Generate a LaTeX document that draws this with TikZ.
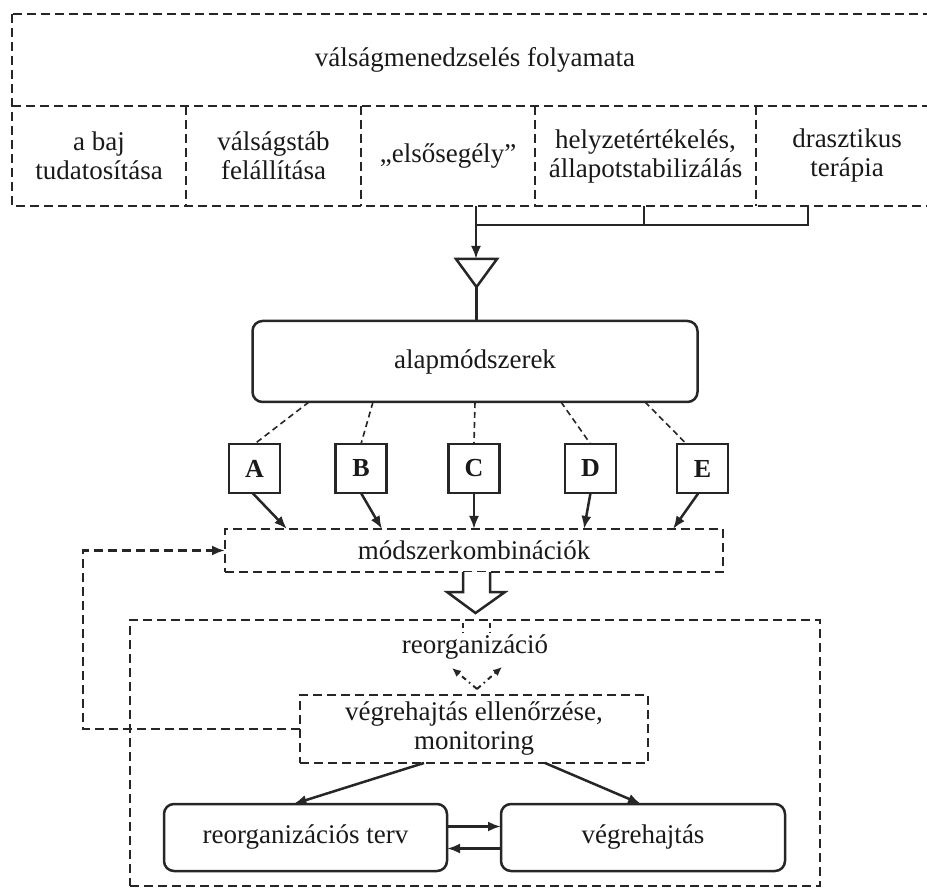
\documentclass[tikz,border=0pt]{standalone}
\usepackage{fontspec}
\setmainfont{Liberation Serif}
\usetikzlibrary{arrows.meta,calc}
\begin{document}
\begin{tikzpicture}[x=1pt,y=-1pt,
  every node/.style={inner sep=0pt,outer sep=0pt,font=\fontsize{27}{29}\selectfont,text=black!90},
  ln/.style={draw=black!85,line width=2.5pt},
  dbox/.style={ln,dash pattern=on 9pt off 5pt},
  rbox/.style={ln,rounded corners=10pt},
  sqbox/.style={ln,line width=2.2pt,minimum width=51pt,minimum height=49pt,font=\fontsize{26}{28}\selectfont\bfseries},
  cell/.style={align=center,minimum height=100pt},
  arr/.style={ln,-{Latex[length=13pt,width=10pt]}},
  thin dash/.style={draw=black!85,line width=1.6pt,dash pattern=on 6pt off 4pt},
  dd/.style={draw=black!85,line width=2pt,dash pattern=on 5pt off 4pt on 1.5pt off 4pt},
]
\path[use as bounding box] (0,0) rectangle (927,890);
\clip (0,0) rectangle (927,890);

% process header and its five phases
\node[minimum width=926pt,minimum height=92pt] (head) at (475,60) {válságmenedzselés folyamata};
\node[cell,minimum width=174pt] (c1) at (99,156) {a baj\\tudatosítása};
\node[cell,minimum width=175pt] (c2) at (273.5,156) {válságstáb\\felállítása};
\node[cell,minimum width=174pt] (c3) at (448,156) {„elsősegély”};
\node[cell,minimum width=221pt] (c4) at (645.5,156) {helyzetértékelés,\\állapotstabilizálás};
\node[cell,minimum width=182pt] (c5) at (847,156) {drasztikus\\terápia};
% grid of the header table, each line drawn once
\draw[dbox] (head.north west) rectangle (c5.south east);
\draw[dbox] (c1.north west) -- (c5.north east);
\foreach \c in {c1,c2,c3,c4} \draw[dbox] (\c.north east) -- (\c.south east);

% gathering lines and the funnel triangle
\coordinate (j3) at (476,225);
\coordinate (j5) at (808,225);
\coordinate (trit) at (476,259);
\coordinate (tril) at (456,259);
\coordinate (trir) at (497,259);
\coordinate (trip) at (476.5,287);
\draw[ln] ([xshift=-1.5pt]c4.south) -- ([xshift=-1.5pt]c4.south |- j3);
\draw[ln] (c5.south -| j5) -- (j5) -- (j3);
\draw[arr] (c3.south -| j3) -- (trit);
\draw[ln,line join=miter] (tril) -- (trir) -- (trip) -- cycle;

% basic methods
\node[rbox,minimum width=445pt,minimum height=81pt] (alap) at (475,361.5) {alapmódszerek};
\draw[ln] (trip) -- (trip |- alap.north);

\node[sqbox] (A) at (254.5,468.5) {A};
\node[sqbox] (B) at (361,468.5) {B};
\node[sqbox] (C) at (474,468.5) {C};
\node[sqbox] (D) at (590.5,468.5) {D};
\node[sqbox] (E) at (702.5,468.5) {E};

\draw[thin dash] ([xshift=-166pt]alap.south) -- (A.north);
\draw[thin dash] ([xshift=-102pt]alap.south) -- (B.north);
\draw[thin dash] (alap.south) -- (C.north);
\draw[thin dash] ([xshift=86pt]alap.south) -- (D.north);
\draw[thin dash] ([xshift=170pt]alap.south) -- ([xshift=-16pt]E.north);

% combinations of methods
\node[dbox,minimum width=498pt,minimum height=43pt] (komb) at (474,550.5) {módszerkombinációk};
\draw[arr] ([xshift=-2pt]A.south) -- ([xshift=-187pt]komb.north);
\draw[arr] (B.south) -- ([xshift=-92pt]komb.north);
\draw[arr] (C.south) -- (komb.north);
\draw[arr] (D.south) -- ([xshift=110pt]komb.north);
\draw[arr] ([xshift=-4pt]E.south) -- ([xshift=199pt]komb.north);

% reorganization frame
\node[dbox,minimum width=690pt,minimum height=266pt] (reorg) at (475,753) {};
\draw[ln,fill=white,line join=miter] (463,572) -- (463,592) -- (447,592) -- (475.5,613)
  -- (505,592) -- (490,592) -- (490,572);
\node (rtext) at (475,647) {reorganizáció};

\node[dbox,align=center,minimum width=348pt,minimum height=68pt] (mon) at (474,729)
  {végrehajtás ellenőrzése,\\monitoring};

\coordinate (vtip) at (477,689);
\coordinate (vl) at (452,668);
\coordinate (vr) at (502,667);
\draw[dd,-{Latex[length=9pt,width=8pt]}] (vtip) -- (vl);
\draw[dd,-{Latex[length=9pt,width=8pt]}] (vtip) -- (vr);
\draw[dd] (463,623) -- (463,633);
\draw[dd] (490,623) -- (490,633);

% feedback loop to the combinations
\coordinate (fb) at (83,729);
\draw[dbox,-{Latex[length=13pt,width=10pt]}] (mon.west) -- (fb) |- (komb.west);

% plan and execution
\node[rbox,minimum width=283pt,minimum height=67pt] (terv) at (305.5,837.5) {reorganizációs terv};
\node[rbox,minimum width=284pt,minimum height=67pt] (vegr) at (643,837.5) {végrehajtás};
\draw[arr] ([xshift=-50pt]mon.south) -- ([xshift=-12pt]terv.north);
\draw[arr] ([xshift=71pt]mon.south) -- ([xshift=-2pt]vegr.north);
\draw[arr] ([yshift=11pt]terv.east) -- ([yshift=11pt]vegr.west);
\draw[arr] ([yshift=-11pt]vegr.west) -- ([yshift=-11pt]terv.east);
\end{tikzpicture}
\end{document}
